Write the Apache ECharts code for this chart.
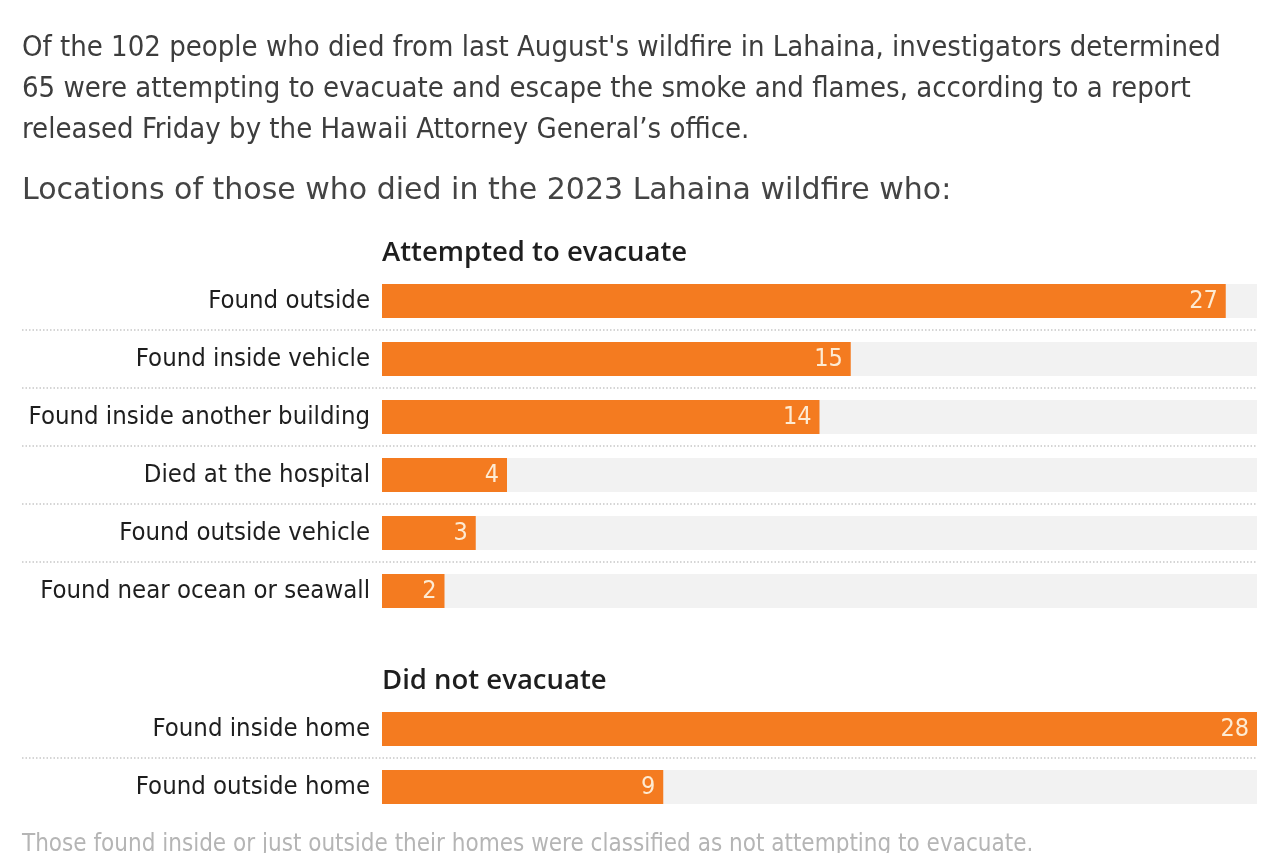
<!DOCTYPE html>
<html><head><meta charset="utf-8">
<script src="https://cdn.jsdelivr.net/npm/echarts@6/dist/echarts.min.js"></script>
<style>html,body{margin:0;padding:0;background:#fff}#c{width:1280px;height:853px}</style>
</head><body><div id="c"></div>
<script>
const introLines = [
  "Of the 102 people who died from last August's wildfire in Lahaina, investigators determined",
  "65 were attempting to evacuate and escape the smoke and flames, according to a report",
  "released Friday by the Hawaii Attorney General\u2019s office."
];
const subtitle = "Locations of those who died in the 2023 Lahaina wildfire who:";
const group1Title = "Attempted to evacuate";
const group1Cats = ["Found outside","Found inside vehicle","Found inside another building","Died at the hospital","Found outside vehicle","Found near ocean or seawall"];
const group1Vals = [27,15,14,4,3,2];
const group2Title = "Did not evacuate";
const group2Cats = ["Found inside home","Found outside home"];
const group2Vals = [28,9];
const footnote = "Those found inside or just outside their homes were classified as not attempting to evacuate.";
const xMax = 28;

const COND = "'Liberation Sans Narrow','DejaVu Sans Condensed',sans-serif";
const WIDE = "'DejaVu Sans',sans-serif";
const SEMI = "'Open Sans',Lato,sans-serif";
const ORANGE = "#f47b20";

const chart = echarts.init(document.getElementById('c'));
function barSeries(vals, idx){
  return {
    type:'bar', xAxisIndex:idx, yAxisIndex:idx, data:vals, barWidth:34,
    itemStyle:{color:ORANGE},
    showBackground:true, backgroundStyle:{color:'#f2f2f2'},
    label:{show:true, position:'insideRight', distance:8, color:'#fdebd3',
      fontFamily:COND, fontSize:25},
    silent:true, animation:false
  };
}
const titles = introLines.map((t,i)=>({text:t, left:22, top:34+i*41, padding:0,
  textStyle:{fontFamily:COND, fontSize:29, fontWeight:'normal', color:'#3d3d3d'}}));
titles.push({text:subtitle, left:22, top:176, padding:0, textStyle:{fontFamily:WIDE, fontSize:30, fontWeight:'normal', color:'#444'}});
titles.push({text:group1Title, left:382, top:239, padding:0, textStyle:{fontFamily:SEMI, fontSize:27.5, fontWeight:600, color:'#1e1e1e'}});
titles.push({text:group2Title, left:382, top:667, padding:0, textStyle:{fontFamily:SEMI, fontSize:27.5, fontWeight:600, color:'#1e1e1e'}});
titles.push({text:footnote, left:22, top:833, padding:0, textStyle:{fontFamily:COND, fontSize:24, fontWeight:'normal', color:'#b5b5b5'}});

const yAxisBase = {type:'category', inverse:true, axisLine:{show:false}, axisTick:{show:false}, splitLine:{show:false},
  axisLabel:{fontFamily:COND, fontSize:25.5, color:'#1e1e1e', margin:12}};
const xAxisBase = {type:'value', min:0, max:xMax, show:false};
chart.setOption({
  animation:false,
  title: titles,
  grid:[{left:382, right:23, top:272, height:348},{left:382, right:23, top:700, height:116}],
  xAxis:[Object.assign({gridIndex:0},xAxisBase),Object.assign({gridIndex:1},xAxisBase)],
  yAxis:[Object.assign({gridIndex:0,data:group1Cats},yAxisBase),Object.assign({gridIndex:1,data:group2Cats},yAxisBase)],
  series:[barSeries(group1Vals,0), barSeries(group2Vals,1)]
});
// dotted separators between rows, positioned through the axis scales
const lines = [];
[[0,group1Cats],[1,group2Cats]].forEach(([idx,cats])=>{
  const xr = chart.convertToPixel({xAxisIndex:idx}, xMax);
  for(let i=0;i<cats.length-1;i++){
    const y = (chart.convertToPixel({yAxisIndex:idx}, cats[i]) + chart.convertToPixel({yAxisIndex:idx}, cats[i+1]))/2;
    lines.push({type:'line', shape:{x1:22,y1:y,x2:xr,y2:y}, style:{stroke:'#c8c8c8', lineWidth:1.5, lineDash:[1.5,2]}, silent:true});
  }
});
chart.setOption({graphic:lines});
</script></body></html>
